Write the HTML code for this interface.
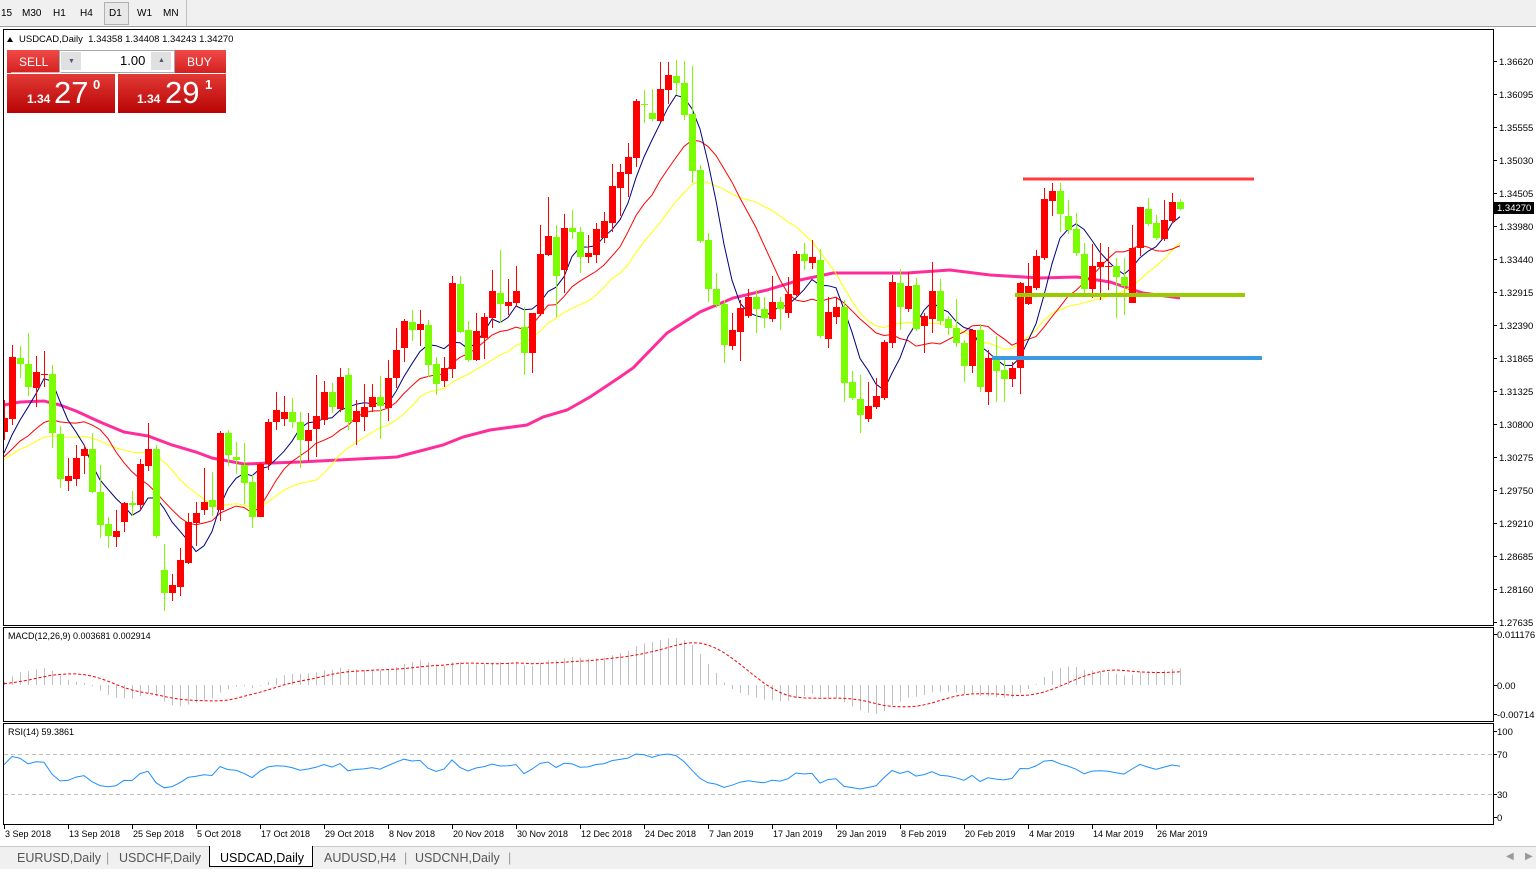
<!DOCTYPE html>
<html><head><meta charset="utf-8">
<style>
body{margin:0;width:1536px;height:872px;overflow:hidden;background:#fff;font-family:"Liberation Sans",sans-serif;}
#tb{position:absolute;left:0;top:0;width:1536px;height:26px;background:#f0f0f0;border-bottom:1px solid #a0a0a0;}
#tb span{position:absolute;top:8px;font-size:10px;color:#000;}
#d1{position:absolute;left:104px;top:2px;width:23px;height:21px;border:1px solid #b0b0b0;background:#e8e8e8;}
.sb{position:absolute;color:#fff;font-family:"Liberation Sans",sans-serif;}
#tabs{position:absolute;left:0;top:846px;width:1536px;height:22px;background:#f0f0f0;border-top:1px solid #c8c8c8;}
#tabs span{position:absolute;top:4px;font-size:12.5px;color:#555;}
</style></head><body>
<div id="tb"><div id="d1"></div>
<span style="left:1px">15</span><span style="left:22px">M30</span><span style="left:53px">H1</span><span style="left:80px">H4</span><span style="left:109px">D1</span><span style="left:137px">W1</span><span style="left:163px">MN</span>
<div style="position:absolute;left:186px;top:0;width:1px;height:26px;background:#c0c0c0"></div>
</div>
<svg id="sv" width="1536" height="872" style="position:absolute;left:0;top:0" xmlns="http://www.w3.org/2000/svg"></svg>
<div style="position:absolute;left:7px;top:50px;width:52px;height:23px;background:linear-gradient(#f04a48,#d42020);"></div>
<div class="sb" style="left:19px;top:55px;font-size:12px">SELL</div>
<div style="position:absolute;left:174px;top:50px;width:52px;height:23px;background:linear-gradient(#f04a48,#d42020);"></div>
<div class="sb" style="left:187px;top:55px;font-size:12px">BUY</div>
<div style="position:absolute;left:59px;top:50px;width:114px;height:21px;background:#fff;border:1px solid #a8a8a8;"></div>
<div style="position:absolute;left:61px;top:52px;width:20px;height:18px;background:#e0e0e0;"></div>
<div style="position:absolute;left:151px;top:52px;width:20px;height:18px;background:#e0e0e0;"></div>
<div style="position:absolute;left:68px;top:58px;font-size:7px;color:#557">▼</div>
<div style="position:absolute;left:158px;top:57px;font-size:7px;color:#557">▲</div>
<div style="position:absolute;left:120px;top:53px;font-size:13px;color:#000">1.00</div>
<div style="position:absolute;left:7px;top:74px;width:108px;height:39px;background:linear-gradient(#e23a36,#b80404);"></div>
<div style="position:absolute;left:118px;top:74px;width:108px;height:39px;background:linear-gradient(#e23a36,#b80404);"></div>
<div style="position:absolute;left:11px;top:72px;width:50px;height:1px;background:#fff;opacity:.6"></div>
<div class="sb" style="left:27px;top:92px;font-size:12px;font-weight:bold">1.34</div>
<div class="sb" style="left:54px;top:75px;font-size:31px">27</div>
<div class="sb" style="left:93px;top:77px;font-size:13px;font-weight:bold">0</div>
<div class="sb" style="left:137px;top:92px;font-size:12px;font-weight:bold">1.34</div>
<div class="sb" style="left:165px;top:75px;font-size:31px">29</div>
<div class="sb" style="left:205px;top:77px;font-size:13px;font-weight:bold">1</div>
<div id="tabs">
<span style="left:17px">EURUSD,Daily</span><span style="left:106px;color:#999">|</span>
<span style="left:119px">USDCHF,Daily</span>
<div style="position:absolute;left:209px;top:-1px;width:102px;height:20px;background:#fff;border:1px solid #000;border-top:none"></div>
<span style="left:220px;color:#000">USDCAD,Daily</span>
<span style="left:324px">AUDUSD,H4</span><span style="left:404px;color:#999">|</span>
<span style="left:415px">USDCNH,Daily</span><span style="left:508px;color:#999">|</span>
<span style="left:1506px;color:#999;font-size:10px">◀</span><span style="left:1525px;color:#999;font-size:10px">▶</span>
</div>
<script>
var D=[[432,418,400,440],[419,357,345,425],[358,364,346,378],[364,387,333,396],[388,372,356,407],[375,374,351,387],[374,433,365,448],[434,479,426,488],[481,476,458,491],[479,458,445,486],[456,449,445,474],[449,492,433,493],[492,525,465,538],[524,536,517,548],[537,531,510,547],[522,503,502,532],[503,505,491,516],[505,464,459,510],[466,449,423,471],[449,536,445,538],[570,593,544,611],[593,585,574,601],[587,560,548,596],[563,522,513,564],[523,513,502,546],[510,502,468,515],[500,507,472,516],[510,433,431,521],[433,455,430,466],[457,460,442,474],[465,483,443,504],[482,517,475,528],[517,464,463,517],[464,422,419,470],[422,410,392,430],[419,412,396,426],[412,422,398,428],[422,440,412,468],[441,430,413,461],[429,416,375,457],[420,392,381,425],[392,407,383,413],[409,377,368,412],[375,422,368,430],[422,411,400,445],[417,407,384,431],[407,397,384,412],[397,406,376,439],[408,378,360,421],[378,350,328,388],[348,321,319,362],[322,330,310,341],[330,324,310,346],[325,365,320,377],[364,384,357,395],[381,368,357,387],[369,283,276,378],[284,332,276,333],[330,360,321,362],[360,331,313,361],[338,317,313,359],[318,291,270,328],[293,304,250,323],[306,302,279,315],[303,291,266,307],[327,353,307,375],[353,313,313,373],[314,254,225,316],[255,236,197,256],[237,276,225,317],[270,228,214,293],[228,232,210,239],[232,257,227,273],[257,253,235,263],[255,229,223,263],[238,221,212,243],[223,186,164,232],[188,172,164,216],[174,157,143,197],[158,101,99,167],[104,105,90,123],[113,119,89,121],[121,89,62,122],[90,75,62,104],[76,83,60,95],[83,115,61,120],[114,171,66,183],[170,241,165,243],[240,289,233,302],[289,305,273,308],[304,345,300,363],[346,330,313,350],[332,308,300,361],[316,297,289,318],[297,309,290,333],[309,318,297,328],[319,302,276,322],[302,309,297,330],[313,294,277,318],[295,254,251,296],[254,261,243,270],[263,257,240,269],[260,336,249,338],[339,312,297,348],[317,307,297,324],[307,383,300,402],[382,398,371,400],[399,415,375,433],[419,406,382,422],[407,396,378,409],[398,342,340,400],[343,282,275,348],[283,307,269,330],[309,286,272,312],[285,329,278,331],[326,316,313,353],[319,291,262,333],[291,321,279,325],[319,328,316,335],[328,343,299,347],[343,366,340,382],[366,330,329,373],[330,387,324,392],[392,358,350,405],[358,371,336,402],[370,379,360,402],[379,368,362,387],[368,283,282,394],[304,286,263,305],[288,256,250,290],[258,199,188,260],[201,191,183,216],[191,214,183,232],[216,230,200,234],[229,253,213,256],[254,289,243,295],[289,266,244,298],[267,262,243,300],[267,266,247,290],[266,277,258,318],[277,286,258,315],[303,248,225,303],[248,207,207,256],[209,224,198,226],[223,238,215,240],[239,220,200,241],[221,202,193,223],[202,209,199,210]];
var s='';function X(i){return 4+8*i;}
function L(x1,y1,x2,y2,c,w,extra){s+='<line x1="'+x1+'" y1="'+y1+'" x2="'+x2+'" y2="'+y2+'" stroke="'+c+'" stroke-width="'+(w||1)+'" '+(extra||'')+'/>';}
function T(x,y,t,sz,anchor,c){s+='<text x="'+x+'" y="'+y+'" font-size="'+(sz||10)+'" fill="'+(c||'#000')+'" font-family="Liberation Sans,sans-serif"'+(anchor?' text-anchor="'+anchor+'"':'')+'>'+t+'</text>';}
s+='<rect x="3.5" y="29.5" width="1490" height="596" fill="#fff" stroke="#000"/>';
s+='<rect x="3.5" y="627.5" width="1490" height="94" fill="#fff" stroke="#000"/>';
s+='<rect x="3.5" y="723.5" width="1490" height="101" fill="#fff" stroke="#000"/>';
s+='<defs><clipPath id="cm"><rect x="4" y="30" width="1489" height="595"/></clipPath></defs>';
var pl=['1.36620','1.36095','1.35555','1.35030','1.34505','1.33980','1.33440','1.32915','1.32390','1.31865','1.31325','1.30800','1.30275','1.29750','1.29210','1.28685','1.28160','1.27635'];
for(var k=0;k<pl.length;k++){var y=61+33*k;L(1493,y+.5,1497,y+.5,'#000');T(1499,y+4,pl[k],9.5);}
var C=D.map(function(d){return d[1];});
var pad=[];for(var k=0;k<40;k++)pad.push(470+(k%2?6:-6)-k*0.3);
var A=pad.concat(C),P=pad.length;
function sma(n){var r=[];for(var i=0;i<C.length;i++){var t=0;for(var j=0;j<n;j++)t+=A[P+i-j];r.push(t/n);}return r;}
function poly(arr,c,w){var p=arr.map(function(v,i){return X(i)+','+v.toFixed(1);}).join(' ');s+='<polyline points="'+p+'" fill="none" stroke="'+c+'" stroke-width="'+w+'" clip-path="url(#cm)"/>';}
var pk=[[4,405],[20,402],[44,401],[60,405],[76,411],[100,422],[124,432],[148,436],[172,445],[196,452],[212,458],[244,464],[300,462],[397,457],[443,445],[463,437],[490,430],[527,425],[543,417],[567,410],[590,397],[620,377],[633,368],[667,333],[700,312],[733,298],[767,290],[800,280],[833,273],[867,273],[907,273],[950,270],[990,275],[1040,278],[1077,277],[1110,282],[1143,293],[1180,298]];
s+='<polyline points="'+pk.map(function(p){return p.join(',');}).join(' ')+'" fill="none" stroke="#ff2d9b" stroke-width="3" clip-path="url(#cm)"/>';
poly(sma(21),'#ffff00',1);
poly(sma(13),'#ff0000',1);
poly(sma(6),'#000080',1);
for(var i=0;i<D.length;i++){var d=D[i],x=X(i),up=d[1]<d[0],c=up?'#ff0000':'#7cfc00';
var t=Math.min(d[0],d[1]),b=Math.max(d[0],d[1]);
L(x+.5,d[2],x+.5,d[3],c);
s+='<rect x="'+(x-3)+'" y="'+t+'" width="7" height="'+Math.max(1,b-t)+'" fill="'+c+'" clip-path="url(#cm)"/>';}
L(1023,179,1254,179,'#ff3b3b',3);
L(1015,295,1245,295,'#99cc00',4);
L(992,358,1262,358,'#3c9be0',4);
s+='<rect x="1494" y="202" width="40" height="12" fill="#000"/>';T(1497,211,'1.34270',9.5,null,'#fff');
s+='<path d="M7 42 L13 42 L10 37 Z" fill="#000"/>';
T(19,42,'USDCAD,Daily&#160;&#160;1.34358 1.34408 1.34243 1.34270',9.5);
var pr=A.map(function(y){return 1.3662-(y-61)*0.00016016;});
function ema(arr,n){var k=2/(n+1),r=[arr[0]];for(var i=1;i<arr.length;i++)r.push(arr[i]*k+r[i-1]*(1-k));return r;}
var e12=ema(pr,12),e26=ema(pr,26),m=e12.map(function(v,i){return v-e26[i];});
var sg=[];for(var i=0;i<m.length;i++){var t=0,n=0;for(var j=0;j<9&&i-j>=0;j++){t+=m[i-j];n++;}sg.push(t/n);}
var mz=685,ms=4560;var sp='';
for(var i=0;i<C.length;i++){var v=m[P+i];L(X(i)+.5,mz,X(i)+.5,(mz-v*ms).toFixed(1),'#c0c0c0');sp+=X(i)+','+(mz-sg[P+i]*ms).toFixed(1)+' ';}
s+='<polyline points="'+sp+'" fill="none" stroke="#ff0000" stroke-width="1" stroke-dasharray="3,2"/>';
T(8,639,'MACD(12,26,9) 0.003681 0.002914',9);
[[634,'0.011176'],[685,'0.00'],[714,'-0.00714']].forEach(function(a){L(1493,a[0]+.5,1497,a[0]+.5,'#000');T(1497,a[0]+4,a[1],9.5);});
var g=0,l=0,rs=[];for(var i=1;i<A.length;i++){var ch=A[i-1]-A[i];var gg=ch>0?ch:0,ll=ch<0?-ch:0;
if(i<=14){g+=gg/14;l+=ll/14;}else{g=(g*13+gg)/14;l=(l*13+ll)/14;}rs.push(l==0?50:100-100/(1+g/l));}
var rp='';for(var i=0;i<C.length;i++){var r=rs[P+i-1];rp+=X(i)+','+(817-r*0.86).toFixed(1)+' ';}
L(4,754.5,1493,754.5,'#c0c0c0',1,'stroke-dasharray="4,3"');L(4,794.5,1493,794.5,'#c0c0c0',1,'stroke-dasharray="4,3"');
s+='<polyline points="'+rp+'" fill="none" stroke="#1e90ff" stroke-width="1"/>';
T(8,735,'RSI(14) 59.3861',9);
[[731,'100'],[754,'70'],[794,'30'],[817,'0']].forEach(function(a){L(1493,a[0]+.5,1497,a[0]+.5,'#000');T(1497,a[0]+4,a[1],9.5);});
var dt=['3 Sep 2018','13 Sep 2018','25 Sep 2018','5 Oct 2018','17 Oct 2018','29 Oct 2018','8 Nov 2018','20 Nov 2018','30 Nov 2018','12 Dec 2018','24 Dec 2018','7 Jan 2019','17 Jan 2019','29 Jan 2019','8 Feb 2019','20 Feb 2019','4 Mar 2019','14 Mar 2019','26 Mar 2019'];
for(var k=0;k<dt.length;k++){var x=4+64*k;L(x+.5,825,x+.5,829,'#000');T(x+1,837,dt[k],9);}
document.getElementById('sv').innerHTML=s;
</script>
</body></html>
